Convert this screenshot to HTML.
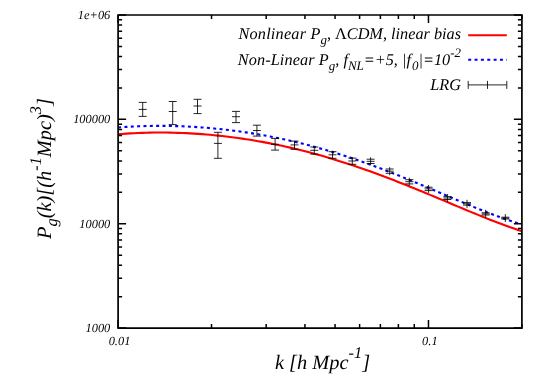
<!DOCTYPE html>
<html><head><meta charset="utf-8"><title>Power spectrum</title>
<style>html,body{margin:0;padding:0;background:#fff;}body{width:545px;height:381px;overflow:hidden;font-family:"Liberation Serif",serif;}</style>
</head><body>
<svg width="545" height="381" viewBox="0 0 545 381" style="display:block;text-rendering:geometricPrecision;will-change:transform">
<rect width="545" height="381" fill="#fff"/>
<path d="M118.10,134.25 L122.10,133.93 L126.10,133.65 L130.10,133.39 L134.10,133.18 L138.10,132.99 L142.10,132.84 L146.10,132.72 L150.10,132.63 L154.10,132.57 L158.10,132.54 L162.10,132.54 L166.10,132.57 L170.10,132.63 L174.10,132.72 L178.10,132.84 L182.10,132.99 L186.10,133.17 L190.10,133.37 L194.10,133.60 L198.10,133.87 L202.10,134.16 L206.10,134.47 L210.10,134.82 L214.10,135.19 L218.10,135.60 L222.10,136.03 L226.10,136.48 L230.10,136.97 L234.10,137.48 L238.10,138.03 L242.10,138.60 L246.10,139.19 L250.10,139.82 L254.10,140.47 L258.10,141.16 L262.10,141.87 L266.10,142.60 L270.10,143.37 L274.10,144.16 L278.10,144.99 L282.10,145.84 L286.10,146.71 L290.10,147.62 L294.10,148.55 L298.10,149.51 L302.10,150.50 L306.10,151.52 L310.10,152.56 L314.10,153.64 L318.10,154.73 L322.10,155.86 L326.10,157.01 L330.10,158.19 L334.10,159.40 L338.10,160.63 L342.10,161.88 L346.10,163.17 L350.10,164.47 L354.10,165.80 L358.10,167.16 L362.10,168.54 L366.10,169.94 L370.10,171.36 L374.10,172.81 L378.10,174.28 L382.10,175.76 L386.10,177.27 L390.10,178.80 L394.10,180.34 L398.10,181.90 L402.10,183.48 L406.10,185.07 L410.10,186.68 L414.10,188.30 L418.10,189.93 L422.10,191.57 L426.10,193.22 L430.10,194.88 L434.10,196.55 L438.10,198.22 L442.10,199.90 L446.10,201.58 L450.10,203.26 L454.10,204.94 L458.10,206.61 L462.10,208.28 L466.10,209.95 L470.10,211.60 L474.10,213.25 L478.10,214.88 L482.10,216.50 L486.10,218.10 L490.10,219.68 L494.10,221.24 L498.10,222.77 L502.10,224.28 L506.10,225.76 L510.10,227.20 L514.10,228.61 L518.10,229.98 L521.90,231.24" fill="none" stroke="#ff0000" stroke-width="2.1" stroke-linejoin="round"/>
<path d="M118.10,127.51 L122.10,127.20 L126.10,126.92 L130.10,126.68 L134.10,126.47 L138.10,126.29 L142.10,126.14 L146.10,126.03 L150.10,125.94 L154.10,125.89 L158.10,125.86 L162.10,125.87 L166.10,125.90 L170.10,125.96 L174.10,126.05 L178.10,126.17 L182.10,126.31 L186.10,126.48 L190.10,126.69 L194.10,126.91 L198.10,127.17 L202.10,127.45 L206.10,127.76 L210.10,128.10 L214.10,128.47 L218.10,128.86 L222.10,129.28 L226.10,129.73 L230.10,130.20 L234.10,130.70 L238.10,131.24 L242.10,131.79 L246.10,132.38 L250.10,132.99 L254.10,133.64 L258.10,134.31 L262.10,135.01 L266.10,135.73 L270.10,136.49 L274.10,137.28 L278.10,138.09 L282.10,138.93 L286.10,139.80 L290.10,140.70 L294.10,141.63 L298.10,142.59 L302.10,143.57 L306.10,144.59 L310.10,145.63 L314.10,146.71 L318.10,147.81 L322.10,148.94 L326.10,150.09 L330.10,151.28 L334.10,152.49 L338.10,153.73 L342.10,155.00 L346.10,156.30 L350.10,157.62 L354.10,158.97 L358.10,160.34 L362.10,161.74 L366.10,163.16 L370.10,164.61 L374.10,166.07 L378.10,167.57 L382.10,169.08 L386.10,170.61 L390.10,172.17 L394.10,173.74 L398.10,175.33 L402.10,176.94 L406.10,178.56 L410.10,180.20 L414.10,181.85 L418.10,183.51 L422.10,185.19 L426.10,186.87 L430.10,188.56 L434.10,190.25 L438.10,191.95 L442.10,193.65 L446.10,195.36 L450.10,197.06 L454.10,198.75 L458.10,200.44 L462.10,202.12 L466.10,203.79 L470.10,205.45 L474.10,207.10 L478.10,208.72 L482.10,210.32 L486.10,211.90 L490.10,213.46 L494.10,214.98 L498.10,216.47 L502.10,217.93 L506.10,219.34 L510.10,220.72 L514.10,222.04 L518.10,223.32 L521.90,224.48" fill="none" stroke="#0000ff" stroke-width="2.1" stroke-dasharray="3.0 3.35" stroke-linejoin="round"/>
<path d="M142.7,102.4V116.4M138.7,102.4H146.7M138.7,116.4H146.7M138.7,109.4H146.7M172.7,101.5V124.6M168.7,101.5H176.7M168.7,124.6H176.7M168.7,111.5H176.7M197.5,99.3V113.6M193.5,99.3H201.5M193.5,113.6H201.5M193.5,106.0H201.5M217.9,132.3V158.3M213.9,132.3H221.9M213.9,158.3H221.9M213.9,143.4H221.9M236.0,111.4V122.6M232.0,111.4H240.0M232.0,122.6H240.0M232.0,116.7H240.0M256.9,125.2V136.1M252.9,125.2H260.9M252.9,136.1H260.9M252.9,130.5H260.9M275.1,138.4V150.1M271.1,138.4H279.1M271.1,150.1H279.1M271.1,144.3H279.1M294.5,140.9V149.3M290.5,141.1H298.5M290.5,149.3H298.5M290.5,144.9H298.5M314.3,146.3V154.3M310.3,147.0H318.3M310.3,154.1H318.3M310.3,150.3H318.3M332.5,150.8V158.8M328.5,151.7H336.5M328.5,158.3H336.5M328.5,154.8H336.5M352.3,157.0V165.0M348.3,158.1H356.3M348.3,164.3H356.3M348.3,161.0H356.3M370.6,157.3V165.3M366.6,159.2H374.6M366.6,163.5H374.6M366.6,161.3H374.6M389.7,167.2V175.2M385.7,169.0H393.7M385.7,173.3H393.7M385.7,171.2H393.7M409.3,177.7V185.7M405.3,179.7H413.3M405.3,183.9H413.3M405.3,181.7H413.3M428.6,184.9V192.9M424.6,187.2H432.6M424.6,190.6H432.6M424.6,188.9H432.6M447.4,194.0V202.0M443.4,196.6H451.4M443.4,199.5H451.4M443.4,198.0H451.4M467.0,199.8V207.8M463.0,202.6H471.0M463.0,205.1H471.0M463.0,203.8H471.0M485.7,209.9V217.9M481.7,212.8H489.7M481.7,215.0H489.7M481.7,213.9H489.7M505.3,214.1V222.1M501.3,217.2H509.3M501.3,219.0H509.3M501.3,218.1H509.3" fill="none" stroke="#000" stroke-width="0.85"/>
<path d="M118.1,15.0H521.9V328.1H118.1Z" fill="none" stroke="#000" stroke-width="1.7" stroke-linejoin="miter"/>
<path d="M118.1,328.10h8.0M521.9,328.10h-8.0M118.1,296.68h4.0M521.9,296.68h-4.0M118.1,278.30h4.0M521.9,278.30h-4.0M118.1,265.27h4.0M521.9,265.27h-4.0M118.1,255.15h4.0M521.9,255.15h-4.0M118.1,246.89h4.0M521.9,246.89h-4.0M118.1,239.90h4.0M521.9,239.90h-4.0M118.1,233.85h4.0M521.9,233.85h-4.0M118.1,228.51h4.0M521.9,228.51h-4.0M118.1,223.73h8.0M521.9,223.73h-8.0M118.1,192.32h4.0M521.9,192.32h-4.0M118.1,173.94h4.0M521.9,173.94h-4.0M118.1,160.90h4.0M521.9,160.90h-4.0M118.1,150.78h4.0M521.9,150.78h-4.0M118.1,142.52h4.0M521.9,142.52h-4.0M118.1,135.53h4.0M521.9,135.53h-4.0M118.1,129.48h4.0M521.9,129.48h-4.0M118.1,124.14h4.0M521.9,124.14h-4.0M118.1,119.37h8.0M521.9,119.37h-8.0M118.1,87.95h4.0M521.9,87.95h-4.0M118.1,69.57h4.0M521.9,69.57h-4.0M118.1,56.53h4.0M521.9,56.53h-4.0M118.1,46.42h4.0M521.9,46.42h-4.0M118.1,38.15h4.0M521.9,38.15h-4.0M118.1,31.17h4.0M521.9,31.17h-4.0M118.1,25.11h4.0M521.9,25.11h-4.0M118.1,19.78h4.0M521.9,19.78h-4.0M118.1,15.00h8.0M521.9,15.00h-8.0M118.10,328.1v-8.0M118.10,15.0v8.0M211.53,328.1v-4.0M211.53,15.0v4.0M266.18,328.1v-4.0M266.18,15.0v4.0M304.96,328.1v-4.0M304.96,15.0v4.0M335.04,328.1v-4.0M335.04,15.0v4.0M359.61,328.1v-4.0M359.61,15.0v4.0M380.39,328.1v-4.0M380.39,15.0v4.0M398.39,328.1v-4.0M398.39,15.0v4.0M414.27,328.1v-4.0M414.27,15.0v4.0M428.47,328.1v-8.0M428.47,15.0v8.0M521.90,328.1v-4.0M521.90,15.0v4.0" fill="none" stroke="#000" stroke-width="1.5" stroke-linejoin="miter"/>
<path d="M468.2,35.2H506.8" stroke="#ff0000" stroke-width="2.1" fill="none"/>
<path d="M468.2,59.7H506.8" stroke="#0000ff" stroke-width="2.1" stroke-dasharray="3.0 3.35" fill="none"/>
<path d="M468.2,84.9H506.8M468.2,80.9v8M506.8,80.9v8M487.5,80.9v8" stroke="#000" stroke-width="0.85" fill="none"/>
<text x="110.3" y="19.2" font-family="Liberation Serif, serif" font-style="italic" font-size="12.4" text-anchor="end" >1e+06</text>
<text x="110.3" y="123.3999467518637" font-family="Liberation Serif, serif" font-style="italic" font-size="12.4" text-anchor="end" >100000</text>
<text x="110.3" y="227.59989350372737" font-family="Liberation Serif, serif" font-style="italic" font-size="12.4" text-anchor="end" >10000</text>
<text x="110.3" y="331.79984025559105" font-family="Liberation Serif, serif" font-style="italic" font-size="12.4" text-anchor="end" >1000</text>
<text x="119.5" y="345.0" font-family="Liberation Serif, serif" font-style="italic" font-size="12.4" text-anchor="middle" >0.01</text>
<text x="429.8694775260892" y="345.0" font-family="Liberation Serif, serif" font-style="italic" font-size="12.4" text-anchor="middle" >0.1</text>
<text x="461" y="39.0" font-family="Liberation Serif, serif" font-style="italic" font-size="16.25" text-anchor="end" ><tspan letter-spacing="0.2">Nonlinear </tspan>P<tspan font-size="13.0" dy="4.875" dx="0">g</tspan><tspan dy="-4.875" font-size="16.25">, <tspan font-style="normal">Λ</tspan>CDM, linear bias</tspan></text>
<text x="461" y="65.4" font-family="Liberation Serif, serif" font-style="italic" font-size="16.25" text-anchor="end" ><tspan letter-spacing="0.1">Non-Linear </tspan>P<tspan font-size="13.0" dy="4.875" dx="0">g</tspan><tspan dy="-4.875" font-size="16.25">, f</tspan><tspan font-size="13.0" dy="4.875" dx="0">NL</tspan><tspan dy="-4.875" font-size="16.25">=+5, |f</tspan><tspan font-size="13.0" dy="4.875" dx="1">0</tspan><tspan dy="-4.875" font-size="16.25">|=10</tspan><tspan font-size="13.0" dy="-8.125">-2</tspan><tspan dy="8.125" font-size="16.25"></tspan></text>
<text x="461" y="89.9" font-family="Liberation Serif, serif" font-style="italic" font-size="16.25" text-anchor="end" >LRG</text>
<text x="322.5" y="368.6" font-family="Liberation Serif, serif" font-style="italic" font-size="20.4" text-anchor="middle" >k [h Mpc<tspan font-size="16.32" dy="-10.2">-1</tspan><tspan dy="10.2" font-size="20.4">]</tspan></text>
<g transform="translate(51,168.5) rotate(-90)">
<text x="0" y="0" font-family="Liberation Serif, serif" font-style="italic" font-size="20.4" text-anchor="middle" >P<tspan font-size="16.32" dy="6.119999999999999" dx="0">g</tspan><tspan dy="-6.119999999999999" font-size="20.4">(k)[(h</tspan><tspan font-size="16.32" dy="-10.2">-1</tspan><tspan dy="10.2" font-size="20.4">Mpc)</tspan><tspan font-size="16.32" dy="-10.2">3</tspan><tspan dy="10.2" font-size="20.4">]</tspan></text>
</g>
</svg>
</body></html>
